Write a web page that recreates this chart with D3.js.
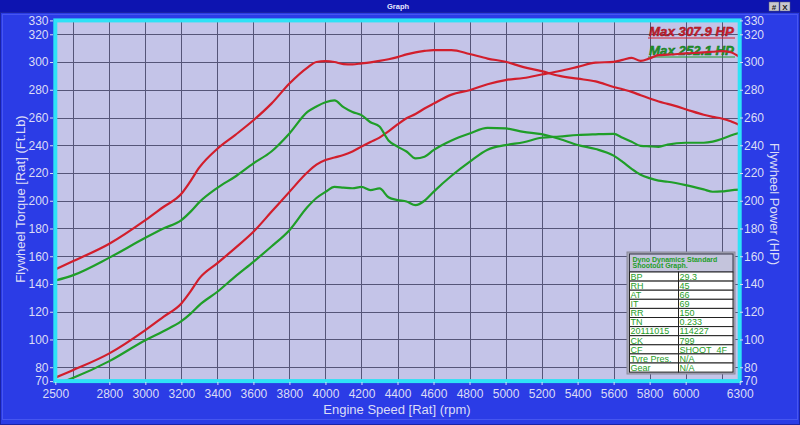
<!DOCTYPE html>
<html>
<head>
<meta charset="utf-8">
<script src="https://cdn.jsdelivr.net/npm/d3@7/dist/d3.min.js"></script>
<style>
  body { margin: 0; background: #2b3ce6; }
  svg { display: block; font-family: Arial, "Liberation Sans", sans-serif; }
</style>
</head>
<body>
<script>
// engine speed samples (rpm) shared by all four traces
const rpm = [2500, 2600, 2800, 3000, 3100, 3200, 3250, 3300, 3400, 3500,
  3600, 3700, 3800, 3900, 3950, 4000, 4050, 4100, 4150, 4200,
  4250, 4300, 4350, 4400, 4450, 4500, 4550, 4600, 4700, 4800,
  4900, 5000, 5100, 5200, 5300, 5400, 5500, 5600, 5650, 5700,
  5750, 5800, 5850, 5900, 6000, 6100, 6150, 6200, 6250, 6300];

const torqueRed = [150.5, 156.5, 169, 186, 195.5, 205, 214, 224, 237.5, 247.5,
  258, 270, 284.5, 296, 300, 300.6, 300, 298.5, 298.3, 299,
  299.8, 300.8, 302, 303.5, 305.5, 307, 308, 308.6, 308.6, 305.8,
  302.5, 300.2, 296.3, 293.4, 290, 288, 286, 282, 280.3, 278.5,
  276, 273.7, 271.5, 269.8, 266, 262, 260.5, 259.3, 257.3, 254.5];

const powerRed = [72.5, 78, 90, 106.8, 116.3, 126, 134.5, 144, 155, 166,
  177.6, 192, 206.4, 220.5, 226, 229.3, 231.2, 233, 235.5, 239,
  242.3, 245.5, 250, 255, 259.5, 262.5, 266.5, 270, 276.5, 279.7,
  284, 287, 288.5, 291, 293.5, 296.5, 299.6, 300.1, 301.5, 303,
  300.8, 302.6, 305, 305.3, 306.2, 306.9, 307.4, 307.9, 307, 303.5];

const torqueGreen = [142.5, 146.4, 159, 173.3, 180, 186, 192, 199, 209.3, 217.5,
  227, 235.5, 248.5, 264, 268, 271, 272.3, 267.5, 264, 261.7,
  256.6, 253.5, 243.5, 239, 235.5, 230.5, 231.7, 236.5, 243.5, 248.5,
  252.5, 252.1, 249.6, 248, 244.5, 240.2, 237.3, 232.5, 228, 223,
  218.8, 216.3, 214.5, 213.7, 211.3, 208.2, 206.5, 206.7, 207.5, 208];

const powerGreen = [67.6, 72.4, 84.4, 99.5, 106, 113.2, 118.5, 124.8, 134.4, 145.5,
  156, 167, 178.8, 195.5, 202, 206.4, 210, 209.5, 209, 210,
  207.7, 208.9, 202.5, 200.5, 199.5, 196.8, 200, 206.4, 218, 228,
  236.8, 240.1, 242.2, 245.4, 246.3, 247.4, 247.9, 248.2, 245.4, 242.5,
  239.6, 239.2, 238.9, 240.5, 241.8, 241.8, 242.6, 244.5, 247, 249];

const xTickLabels = [2500, 2800, 3000, 3200, 3400, 3600, 3800, 4000, 4200, 4400,
  4600, 4800, 5000, 5200, 5400, 5600, 5800, 6000, 6300];
const xGridValues = d3.range(2600, 6201, 200);
const yTickLabels = [70, 80, 100, 120, 140, 160, 180, 200, 220, 240, 260, 280, 300, 320, 330];
const yGridValues = d3.range(80, 321, 20);

const legendTexts = ["Max 307.9 HP", "Max 252.1 HP"];
const infoHeader = ["Dyno Dynamics Standard", "Shootout Graph."];
const infoLabels = ["BP", "RH", "AT", "IT", "RR", "TN", "20111015", "CK", "CF", "Tyre Pres.", "Gear"];
const infoValues = ["29.3", "45", "66", "69", "150", "0.233", "114227", "799", "SHOOT_4F", "N/A", "N/A"];

const red = "#d21e2c", green = "#1f9e28";
const tickColor = "#dcdcf6";

const W = 800, H = 425;
const plotL = 55.3, plotR = 739.7, plotT = 20.4, plotB = 381.1;

const svg = d3.select("body").append("svg")
  .attr("width", W)
  .attr("height", H);

// window chrome
svg.append("rect").attr("width", W).attr("height", H).attr("fill", "#2b3ce6");
svg.append("rect").attr("x", 0.5).attr("y", 12.5).attr("width", W - 1).attr("height", H - 13)
  .attr("fill", "none").attr("stroke", "#1a23a6").attr("stroke-width", 1);
svg.append("rect").attr("x", 2.5).attr("y", 14.5).attr("width", W - 5).attr("height", H - 20)
  .attr("fill", "none").attr("stroke", "#4656f0").attr("stroke-width", 1);
svg.append("rect").attr("width", W).attr("height", 12).attr("fill", "#0d14b0");
svg.append("text")
  .attr("x", 398).attr("y", 9)
  .attr("text-anchor", "middle")
  .attr("fill", "#e8e8ff")
  .attr("font-size", "7.5px")
  .attr("font-weight", "bold")
  .text("Graph");
[769, 780].forEach(function(bx, i) {
  svg.append("rect").attr("x", bx).attr("y", 2).attr("width", 10).attr("height", 9)
    .attr("fill", "#c8c8d0").attr("stroke", "#606070").attr("stroke-width", 0.5);
  svg.append("text").attr("x", bx + 5).attr("y", 9.5).attr("text-anchor", "middle")
    .attr("font-size", "8px").attr("font-weight", "bold").attr("fill", "#202020")
    .text(i == 0 ? "#" : "X");
});

const x = d3.scaleLinear().domain([2500, 6300]).range([plotL, plotR]);
const y = d3.scaleLinear().domain([70, 330]).range([plotB, plotT]);

// plot area
svg.append("rect")
  .attr("x", plotL).attr("y", plotT)
  .attr("width", plotR - plotL).attr("height", plotB - plotT)
  .attr("fill", "#c4c4e8");

svg.append("g").selectAll("line")
  .data(xGridValues)
  .enter()
  .append("line")
  .attr("x1", function(d) { return Math.round(x(d)) + 0.5; })
  .attr("x2", function(d) { return Math.round(x(d)) + 0.5; })
  .attr("y1", plotT).attr("y2", plotB)
  .attr("stroke", "#555578").attr("stroke-width", 1);

svg.append("g").selectAll("line")
  .data(yGridValues)
  .enter()
  .append("line")
  .attr("y1", function(d) { return Math.round(y(d)) + 0.5; })
  .attr("y2", function(d) { return Math.round(y(d)) + 0.5; })
  .attr("x1", plotL).attr("x2", plotR)
  .attr("stroke", "#555578").attr("stroke-width", 1);

svg.append("clipPath").attr("id", "plotClip")
  .append("rect")
  .attr("x", plotL).attr("y", plotT)
  .attr("width", plotR - plotL).attr("height", plotB - plotT);

// legend
const legendColors = [red, green];
const legendY = [36, 55];
legendTexts.forEach(function(t, i) {
  svg.append("text")
    .attr("x", 649).attr("y", legendY[i])
    .attr("fill", legendColors[i])
    .attr("font-size", "12px")
    .attr("font-weight", "bold")
    .attr("font-style", "italic")
    .attr("textLength", 85)
    .attr("lengthAdjust", "spacingAndGlyphs")
    .attr("stroke", d3.color(legendColors[i]).darker(1.2))
    .attr("stroke-width", 0.4)
    .text(t);
  svg.append("line")
    .attr("x1", 648).attr("x2", 735)
    .attr("y1", legendY[i] + 2).attr("y2", legendY[i] + 2)
    .attr("stroke", legendColors[i]).attr("stroke-width", 1.2);
});

// curves
const line = d3.line()
  .x(function(d) { return x(d[0]); })
  .y(function(d) { return y(d[1]); })
  .curve(d3.curveMonotoneX);

const series = [
  { values: torqueRed, color: red },
  { values: powerRed, color: red },
  { values: torqueGreen, color: green },
  { values: powerGreen, color: green }
];

svg.append("g").attr("clip-path", "url(#plotClip)")
  .selectAll("path")
  .data(series)
  .enter()
  .append("path")
  .attr("d", function(s) { return line(d3.zip(rpm, s.values)); })
  .attr("fill", "none")
  .attr("stroke", function(s) { return s.color; })
  .attr("stroke-width", 2.2)
  .attr("stroke-linejoin", "round");

// info table
const tx = 629.5, tw = 103.5, colSplit = 678.5, headTop = 254, headH = 18, rowH = 9.1;
const tableTop = headTop + headH;
svg.append("rect")
  .attr("x", 627).attr("y", 252)
  .attr("width", 108).attr("height", 122)
  .attr("fill", "#a9a9b9").attr("stroke", "#8a8a9a");
svg.append("rect")
  .attr("x", tx).attr("y", headTop)
  .attr("width", tw).attr("height", headH)
  .attr("fill", "#c4c4dc").attr("stroke", "#333344").attr("stroke-width", 1);
infoHeader.forEach(function(t, i) {
  svg.append("text")
    .attr("x", tx + 3).attr("y", headTop + 7.5 + i * 6)
    .attr("fill", green)
    .attr("font-size", "7px")
    .attr("font-weight", "bold")
    .text(t);
});

const rows = svg.append("g").selectAll("g")
  .data(infoLabels)
  .enter()
  .append("g")
  .attr("transform", function(d, i) { return "translate(0," + (tableTop + i * rowH) + ")"; });

rows.append("rect")
  .attr("x", tx).attr("y", 0)
  .attr("width", colSplit - tx).attr("height", rowH)
  .attr("fill", "#ffffff").attr("stroke", "#222222").attr("stroke-width", 1);
rows.append("rect")
  .attr("x", colSplit).attr("y", 0)
  .attr("width", tx + tw - colSplit).attr("height", rowH)
  .attr("fill", "#ffffff").attr("stroke", "#222222").attr("stroke-width", 1);
rows.append("text")
  .attr("x", tx + 1).attr("y", rowH - 1.3)
  .attr("fill", green)
  .attr("font-size", "9px")
  .attr("font-family", "'Liberation Sans Narrow', 'Arial Narrow', Arial, sans-serif")
  .text(function(d) { return d; });
rows.append("text")
  .attr("x", colSplit + 1).attr("y", rowH - 1.3)
  .attr("fill", green)
  .attr("font-size", "9px")
  .attr("font-family", "'Liberation Sans Narrow', 'Arial Narrow', Arial, sans-serif")
  .text(function(d, i) { return infoValues[i]; });

// cyan frame round the plot
svg.append("rect")
  .attr("x", plotL).attr("y", plotT)
  .attr("width", plotR - plotL).attr("height", plotB - plotT)
  .attr("fill", "none")
  .attr("stroke", "#2ee2f6")
  .attr("stroke-width", 4);

// axes
function styleAxis(g) {
  g.select(".domain").remove();
  g.selectAll("line").attr("stroke", tickColor);
  g.selectAll("text").attr("fill", tickColor).attr("font-size", "12px").attr("font-family", "Arial, 'Liberation Sans', sans-serif");
}

svg.append("g")
  .attr("transform", "translate(53,0)")
  .call(d3.axisLeft(y).tickValues(yTickLabels).tickSize(3).tickPadding(1.5))
  .call(styleAxis);

svg.append("g")
  .attr("transform", "translate(740,0)")
  .call(d3.axisRight(y).tickValues(yTickLabels).tickSize(3).tickPadding(1))
  .call(styleAxis);

svg.append("g")
  .attr("transform", "translate(0,382)")
  .call(d3.axisBottom(x).tickValues(xTickLabels).tickSize(3).tickPadding(4.5).tickFormat(d3.format("d")))
  .call(styleAxis);

// axis titles
svg.append("text")
  .attr("x", 397).attr("y", 414)
  .attr("text-anchor", "middle")
  .attr("fill", tickColor)
  .attr("font-size", "13px")
  .text("Engine Speed [Rat] (rpm)");

svg.append("text")
  .attr("transform", "translate(24.5,199) rotate(-90)")
  .attr("text-anchor", "middle")
  .attr("fill", tickColor)
  .attr("font-size", "13px")
  .text("Flywheel Torque [Rat] (Ft.Lb)");

svg.append("text")
  .attr("transform", "translate(770,204) rotate(90)")
  .attr("text-anchor", "middle")
  .attr("fill", tickColor)
  .attr("font-size", "13px")
  .text("Flywheel Power (HP)");
</script>
</body>
</html>
